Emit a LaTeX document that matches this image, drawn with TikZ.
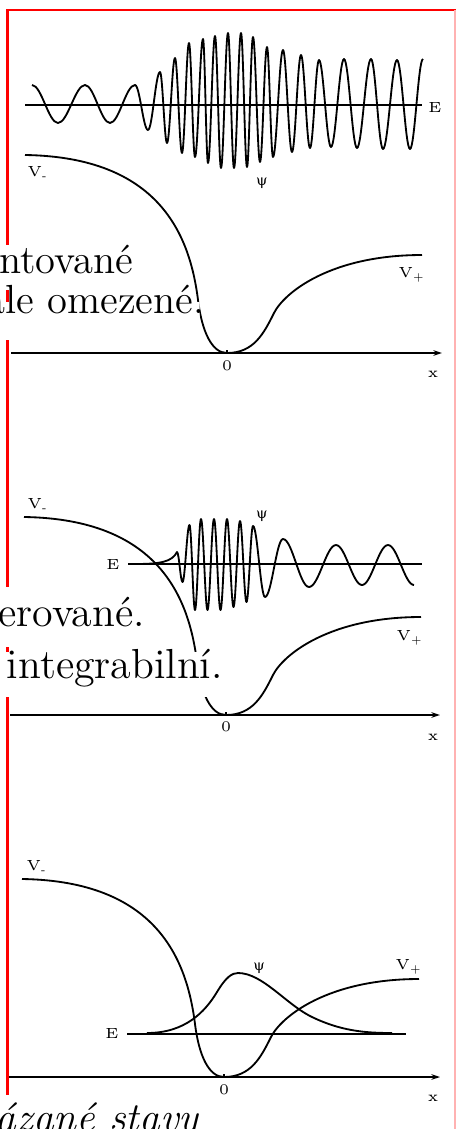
\documentclass[tikz,border=0pt]{standalone}
\usepackage{fontspec}
\newfontfamily\grkfont{DejaVu Serif}
\usetikzlibrary{arrows.meta}
\newcommand{\slideline}[1]{\makebox[72pt][r]{#1}}
\newcommand{\wavefn}{{\grkfont ψ}}
% the same well in every panel
\newcommand{\potential}{(25,155) .. controls (160,157) and (190,236) .. (198,300) .. controls (202,332) and (212,353) .. (227,353) .. controls (254,353) and (264,333) .. (274,313) .. controls (284,293) and (330,255) .. (422,255)}

\begin{document}
\begin{tikzpicture}[x=0.3pt,y=-0.3pt,>={Stealth[length=2.6pt,width=1.7pt]}]
\tikzstyle{pcurve}=[line width=0.55pt,line join=round]
\tikzstyle{elevel}=[line width=0.75pt]
\tikzstyle{xaxis}=[line width=0.45pt,->]
\tikzstyle{lbl}=[inner sep=0pt,font=\fontsize{4.4}{5}\selectfont]
\tikzstyle{slidetext}=[fill=white,inner sep=0pt,anchor=base east,font=\fontsize{12.4}{14}\selectfont]
\useasboundingbox (0,0) rectangle (456,1129);
\fill[white] (0,0) rectangle (456,1129);

% scattering state
\coordinate (axl1) at (11,353);
\coordinate (axr1) at (442,353);
\coordinate (el1) at (25,105);
\coordinate (er1) at (422,105);
\draw[xaxis] (axl1) -- (axr1);
\draw[line width=0.4pt] (227,353) -- (227,350);
\draw[elevel] (el1) -- (er1);
\draw[pcurve] \potential;
\draw[pcurve] (32,85) foreach \x/\y [remember=\x as \lx (initially 32),remember=\y as \ly (initially 85)] in {58/123,85/85,110/123,135/85,148/130,160/72,167/143,175/58,182/153,189/43,195/157,203/39,208/163,215/36,221/168,228/33,234/168,241/33,247/167,253/37,260/162,267/47,273/157,283/50,292/152,301/55,310/148,319/60,331/147,344/59,357/148,371/59,383/149,397/60,410/149,423/59} { .. controls ({\lx+0.3634*(\x-\lx)},\ly) and ({\x-0.3634*(\x-\lx)},\y) .. (\x,\y)};
\node[lbl] (E1) at (435,108) {E};
\node[lbl] (vm1) at (38,173) {V\textsubscript{-}};
\node[lbl] (psi1) at (262,183) {\wavefn};
\node[lbl] (vp1) at (412,275) {V\textsubscript{+}};
\node[lbl] (zero1) at (227,366) {0};
\node[lbl] (x1) at (433,374) {x};

% resonance
\coordinate (axl2) at (10,715);
\coordinate (axr2) at (440,715);
\coordinate (el2) at (128,564);
\coordinate (er2) at (422,564);
\draw[xaxis] (axl2) -- (axr2);
\draw[line width=0.4pt] (226,715) -- (226,712);
\draw[elevel] (el2) -- (er2);
\draw[pcurve,shift={(-1,362)}] \potential;
\draw[pcurve] (135,564) .. controls (160,564) and (172,562) .. (177,552) foreach \x/\y [remember=\x as \lx (initially 177),remember=\y as \ly (initially 552)] in {182.5/582,189.5/525,195/610,201/519,207.5/610,214/519,220.5/610,227/519,233.5/607,240/521,246.5/602,253/526,265/597,283/539,309/587,336/545,362/585,388/545,414/585} { .. controls ({\lx+0.3634*(\x-\lx)},\ly) and ({\x-0.3634*(\x-\lx)},\y) .. (\x,\y)};
\node[lbl] (vm2) at (38,505) {V\textsubscript{-}};
\node[lbl] (psi2) at (262,516) {\wavefn};
\node[lbl] (E2) at (113,565) {E};
\node[lbl] (vp2) at (410,638) {V\textsubscript{+}};
\node[lbl] (zero2) at (226,727) {0};
\node[lbl] (x2) at (433,737) {x};

% bound state
\coordinate (axl3) at (8,1077);
\coordinate (axr3) at (440,1077);
\coordinate (el3) at (127,1034);
\coordinate (er3) at (406,1034);
\draw[xaxis] (axl3) -- (axr3);
\draw[line width=0.4pt] (224,1077) -- (224,1074);
\draw[line width=0.4pt] (el3) -- (er3);
\draw[pcurve,shift={(-3,724)}] \potential;
\draw[pcurve] (147,1033) .. controls (185,1033) and (205,1012) .. (217,992) .. controls (226,977) and (232,973) .. (238,973) .. controls (262,973) and (285,1003) .. (310,1016) .. controls (340,1031) and (365,1033) .. (392,1033);
\node[lbl] (vm3) at (37,867) {V\textsubscript{-}};
\node[lbl] (psi3) at (259,968) {\wavefn};
\node[lbl] (vp3) at (409,967) {V\textsubscript{+}};
\node[lbl] (E3) at (112,1034) {E};
\node[lbl] (zero3) at (224,1090) {0};
\node[lbl] (x3) at (433,1098) {x};

% frame and slide text
\draw[red,line width=0.75pt] (7.5,1129) -- (7.5,10) -- (456,10);
\draw[red!30,line width=0.5pt] (455,10) -- (455,1129);
\node[slidetext,font=\fontsize{12.2}{14}\selectfont,text height=8.4pt,text depth=5.1pt] (t1) at (134,273) {\slideline{ntované}};
\begin{scope}
\clip (-10,272) rectangle (199.5,345);
\node[slidetext,font=\fontsize{12.2}{14}\selectfont,text height=3.3pt,text depth=8.1pt] (t2) at (205,313) {\slideline{ale omezené.}};
\end{scope}
\node[slidetext,font=\fontsize{12.6}{14}\selectfont,text height=11.7pt,text depth=6.3pt] (t3) at (145.5,626) {\slideline{erované.}};
\node[slidetext,font=\fontsize{12.6}{14}\selectfont,text height=7.8pt,text depth=5.7pt] (t4) at (223.5,678) {\slideline{integrabilní.}};
\node[slidetext,text height=10.8pt,text depth=5pt] (t5) at (199,1131) {\slideline{\itshape ázané stavy}};
\end{tikzpicture}
\end{document}
